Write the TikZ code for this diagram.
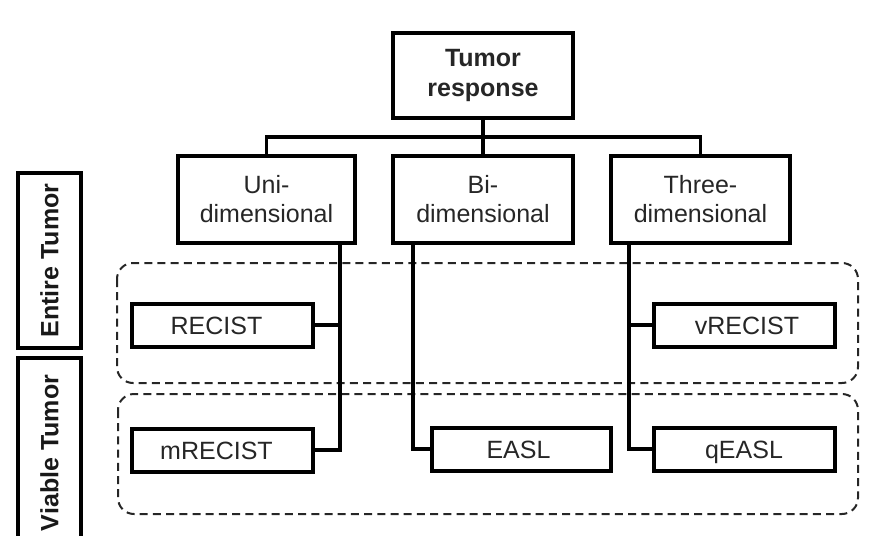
\documentclass[tikz,border=0pt]{standalone}
\usepackage{fontspec}
\setmainfont{Liberation Sans}
\begin{document}
\begin{tikzpicture}[x=0.5pt,y=-0.5pt,
  font=\fontsize{12.5pt}{14.5pt}\selectfont,
  box/.style={draw=black,line width=2pt,rectangle,inner sep=0pt,align=center,text=black!85},
  mid/.style={box,minimum height=43.5pt},
  leaf/.style={box,minimum height=21.5pt,minimum width=90.5pt,text height=10pt,text depth=1pt},
  conn/.style={draw=black,line width=1.6pt},
  group/.style={draw=black!85,line width=1pt,dash pattern=on 4pt off 2.6pt,rounded corners=8pt},
  side/.style={font=\fontsize{12.5pt}{14.5pt}\selectfont\bfseries,rotate=90,text=black!90}]
\clip (0,0) rectangle (896,536);
\useasboundingbox (0,0) rectangle (896,536);
% groups
\draw[group] (117,263) rectangle (858,383);
\draw[group] (118,394) rectangle (858,514);
% side labels
\draw[line width=2pt] (18,173) rectangle (81,348);
\node[side] (entire) at (49.5,260.5) {Entire Tumor};
\draw[line width=2pt] (18,358) rectangle (81,570);
\node[side] (viable) at (49.5,453) {Viable Tumor};
% top
\node[box,font=\fontsize{12.5pt}{15pt}\selectfont\bfseries,minimum width=90pt,minimum height=42.5pt] (top) at (483,75.5) {Tumor\\response};
\node[mid,minimum width=88.5pt] (uni) at (266.5,199.5) {Uni-\\dimensional};
\node[mid,minimum width=90pt] (bi) at (483,199.5) {Bi-\\dimensional};
\node[mid,minimum width=89.5pt] (three) at (700.5,199.5) {Three-\\dimensional};
% leaves
\node[leaf] (recist) at (222.5,325) {\kern-6pt RECIST};
\node[leaf] (mrecist) at (222.5,450) {\kern-6pt mRECIST};
\node[leaf] (vrecist) at (744,325) {\kern3pt vRECIST};
\node[leaf] (qeasl) at (744,449) {qEASL};
\node[leaf,minimum width=89.5pt] (easl) at (521.5,449) {\kern-3pt EASL};
% connectors
\coordinate (bus) at (483,137);
\coordinate (u1) at (340,243);
\coordinate (b1) at (413,243);
\coordinate (t1) at (629,243);
\draw[conn] (top.south) -- (bus);
\draw[conn] (uni.north) |- (bus) -| (three.north);
\draw[conn] (bus) -- (bi.north);
\draw[conn] (u1) |- (mrecist.east);
\draw[conn] (recist.east) -- (recist.east -| u1);
\draw[conn] (b1) |- (easl.west);
\draw[conn] (t1) |- (qeasl.west);
\draw[conn] (vrecist.west) -- (vrecist.west -| t1);
\end{tikzpicture}
\end{document}
